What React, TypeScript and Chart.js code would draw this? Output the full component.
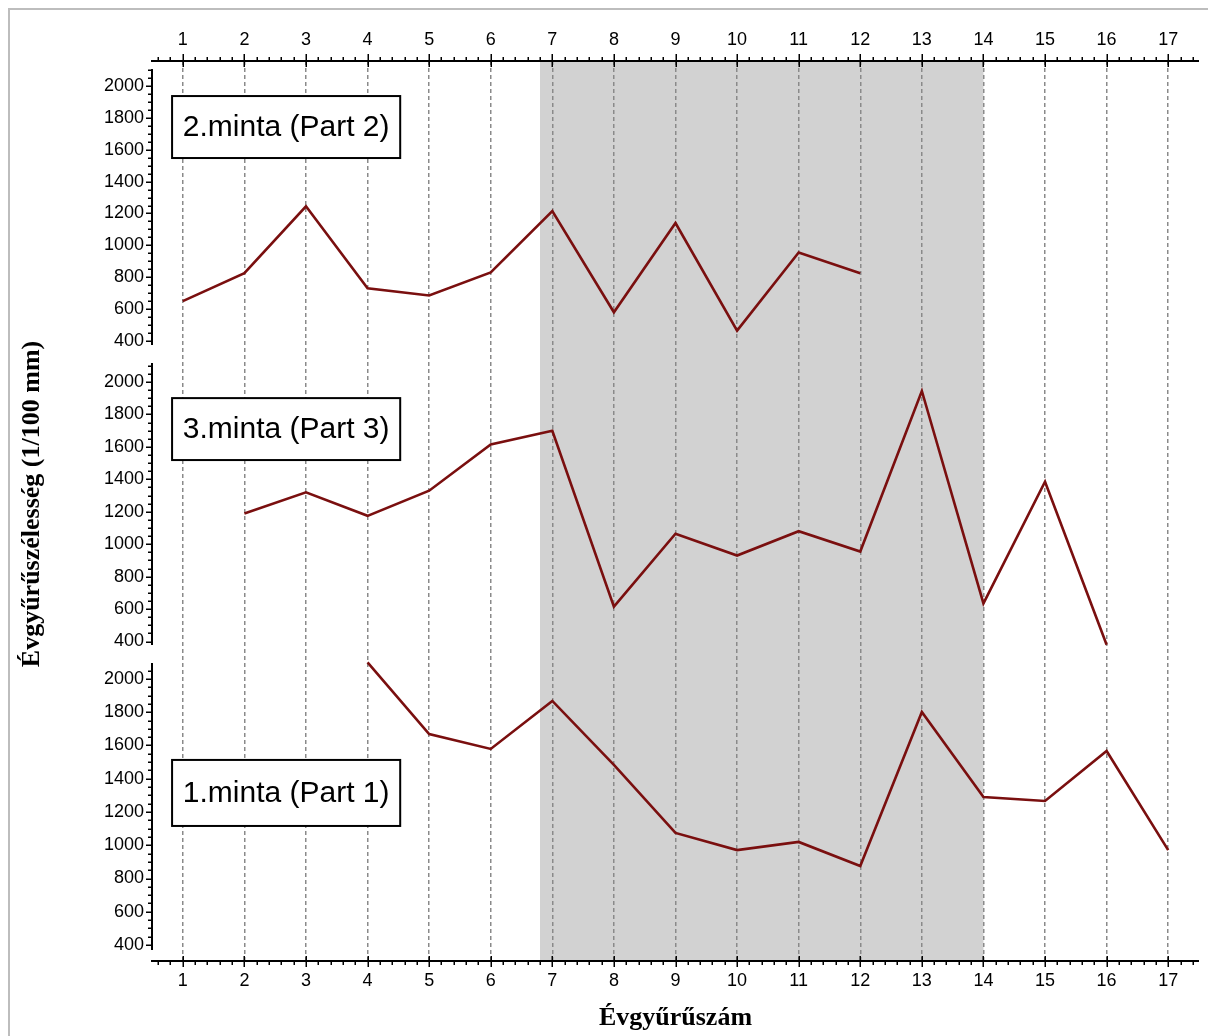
import React, { useEffect, useRef } from "react";
import { Chart, registerables } from "chart.js";

Chart.register(...registerables);

// ---- data ----
const RING_NUMBERS = [1, 2, 3, 4, 5, 6, 7, 8, 9, 10, 11, 12, 13, 14, 15, 16, 17];
const X_TICKS = [1, 2, 3, 4, 5, 6, 7, 8, 9, 10, 11, 12, 13, 14, 15, 16, 17];
const Y_TICKS = [400, 600, 800, 1000, 1200, 1400, 1600, 1800, 2000];

// 2.minta (Part 2) – top panel
const SAMPLE_2 = [650, 825, 1245, 730, 685, 830, 1215, 580, 1140, 465, 955, 825, null, null, null, null, null];
// 3.minta (Part 3) – middle panel
const SAMPLE_3 = [null, 1190, 1320, 1175, 1330, 1615, 1700, 615, 1065, 930, 1080, 955, 1945, 635, 1385, 380, null];
// 1.minta (Part 1) – bottom panel
const SAMPLE_1 = [null, null, null, 2100, 1669, 1579, 1868, 1483, 1074, 971, 1020, 875, 1801, 1290, 1266, 1567, 971];

const PANEL_LABELS = ["2.minta (Part 2)", "3.minta (Part 3)", "1.minta (Part 1)"];
const SHADE_RANGE = [6.8, 14];

const X_TITLE = "Évgyűrűszám";
const Y_TITLE = "Évgyűrűszélesség (1/100 mm)";

// ---- layout / style config ----
const SANS = '"Liberation Sans", Arial, sans-serif';
const SERIF = '"Liberation Serif", "Times New Roman", serif';
const LINE_COLOR = "#7a0f0f";

// listed top to bottom
const PANELS = [
  { id: "yTop", min: 318, max: 2157, weight: 293, axisLo: 375, axisHi: 2107, data: SAMPLE_2,
    box: { x0: 0.826, x1: 4.53, yTop: 1937, yBot: 1548 } },
  { id: "yMid", min: 323, max: 2173, weight: 300, axisLo: 378, axisHi: 2117, data: SAMPLE_3,
    box: { x0: 0.826, x1: 4.53, yTop: 1901, yBot: 1519 } },
  { id: "yBot", min: 304, max: 2150, weight: 307, axisLo: 370, axisHi: 2096, data: SAMPLE_1,
    box: { x0: 0.826, x1: 4.53, yTop: 1513, yBot: 1116 } },
];

const decorPlugin = {
  id: "decor",
  beforeDraw(chart: any) {
    const { ctx, chartArea: a, scales } = chart;
    const x = scales.x;
    const l = x.getPixelForValue(SHADE_RANGE[0]);
    const r = x.getPixelForValue(SHADE_RANGE[1]);
    ctx.save();
    ctx.fillStyle = "#d2d2d2";
    ctx.fillRect(l, a.top, r - l, a.bottom - a.top);
    ctx.restore();
  },
  afterDatasetsDraw(chart: any) {
    const { ctx, chartArea: a, scales } = chart;
    const x = scales.x;
    ctx.save();
    ctx.strokeStyle = "#000";
    ctx.lineWidth = 2;
    ctx.lineCap = "butt";
    // x axis lines (top and bottom)
    ctx.beginPath();
    ctx.moveTo(a.left - 1, a.top);
    ctx.lineTo(a.right, a.top);
    ctx.moveTo(a.left - 1, a.bottom);
    ctx.lineTo(a.right, a.bottom);
    ctx.stroke();
    // x ticks
    ctx.lineWidth = 1.5;
    ctx.beginPath();
    for (let i = 1; i <= 90; i++) {
      const v = i / 5;
      if (v <= x.min || v >= x.max) continue;
      const px = Math.round(x.getPixelForValue(v)) + 0.25;
      if (i % 5 === 0) {
        ctx.moveTo(px, a.top - 7);
        ctx.lineTo(px, a.top + 6);
        ctx.moveTo(px, a.bottom - 5);
        ctx.lineTo(px, a.bottom + 6);
      } else {
        ctx.moveTo(px, a.top - 4);
        ctx.lineTo(px, a.top);
        ctx.moveTo(px, a.bottom);
        ctx.lineTo(px, a.bottom + 4);
      }
    }
    ctx.stroke();
    // y axes
    for (const p of PANELS) {
      const y = scales[p.id];
      const t = y.getPixelForValue(p.axisHi);
      const b = y.getPixelForValue(p.axisLo);
      ctx.lineWidth = 2;
      ctx.beginPath();
      ctx.moveTo(a.left, t);
      ctx.lineTo(a.left, b);
      ctx.stroke();
      ctx.lineWidth = 1.5;
      ctx.beginPath();
      for (let v = 400; v <= p.axisHi; v += 50) {
        const py = Math.round(y.getPixelForValue(v)) + 0.25;
        const major = v % 200 === 0 && v <= 2000;
        ctx.moveTo(a.left - (major ? 6 : 4), py);
        ctx.lineTo(a.left, py);
      }
      ctx.stroke();
    }
    // panel label boxes
    PANELS.forEach((p, idx) => {
      const y = scales[p.id];
      const x0 = x.getPixelForValue(p.box.x0);
      const x1 = x.getPixelForValue(p.box.x1);
      const y0 = y.getPixelForValue(p.box.yTop);
      const y1 = y.getPixelForValue(p.box.yBot);
      ctx.fillStyle = "#fff";
      ctx.fillRect(x0, y0, x1 - x0, y1 - y0);
      ctx.lineWidth = 2;
      ctx.strokeStyle = "#000";
      ctx.strokeRect(x0, y0, x1 - x0, y1 - y0);
      ctx.fillStyle = "#000";
      ctx.font = `30px ${SANS}`;
      ctx.textAlign = "center";
      ctx.textBaseline = "middle";
      ctx.fillText(PANEL_LABELS[idx], (x0 + x1) / 2, (y0 + y1) / 2 + 1);
    });
    ctx.restore();
  },
};

function xAxis(position: "top" | "bottom") {
  const isBottom = position === "bottom";
  return {
    type: "linear",
    axis: "x",
    position,
    min: 0.5,
    max: 17.5,
    afterBuildTicks: (s: any) => {
      s.ticks = X_TICKS.map((v) => ({ value: v }));
    },
    afterFit: (s: any) => {
      s.height = isBottom ? 75 : 51;
    },
    ticks: {
      font: { family: SANS, size: 18 },
      color: "#000",
      padding: isBottom ? 9 : 10,
      maxRotation: 0,
      autoSkip: false,
      callback: (v: any) => String(v),
    },
    grid: {
      display: isBottom,
      drawOnChartArea: isBottom,
      drawTicks: false,
      color: "#8a8a8a",
      lineWidth: 1.5,
    },
    border: { display: false, dash: [4, 3] },
    title: isBottom
      ? {
          display: true,
          text: X_TITLE,
          color: "#000",
          font: { family: SERIF, size: 26, weight: "bold" },
          padding: { top: 0, bottom: 2 },
        }
      : { display: false },
  };
}

function yAxis(p: any, withTitle: boolean) {
  return {
    type: "linear",
    axis: "y",
    position: "left",
    stack: "panels",
    stackWeight: p.weight,
    min: p.min,
    max: p.max,
    afterBuildTicks: (s: any) => {
      s.ticks = Y_TICKS.map((v) => ({ value: v }));
    },
    afterFit: (s: any) => {
      s.width = 142;
    },
    ticks: {
      font: { family: SANS, size: 18 },
      color: "#000",
      padding: 8,
      autoSkip: false,
      callback: (v: any) => String(v),
    },
    grid: { display: false, drawTicks: false },
    border: { display: false },
    title: withTitle
      ? {
          display: true,
          text: Y_TITLE,
          color: "#000",
          font: { family: SERIF, size: 26, weight: "bold" },
          padding: { top: 7, bottom: 0 },
        }
      : { display: false },
  };
}

export default function App() {
  const ref = useRef<HTMLCanvasElement | null>(null);

  useEffect(() => {
    if (!ref.current) return;
    const scales: any = {
      x: xAxis("bottom"),
      x2: xAxis("top"),
    };
    // Chart.js places the last-defined stacked left axis at the top,
    // so define the panels bottom-to-top.
    for (let i = PANELS.length - 1; i >= 0; i--) {
      scales[PANELS[i].id] = yAxis(PANELS[i], i === 1);
    }
    const datasets = PANELS.map((p, i) => ({
      label: PANEL_LABELS[i],
      data: RING_NUMBERS.map((n, k) => ({ x: n, y: p.data[k] })),
      xAxisID: "x",
      yAxisID: p.id,
      borderColor: LINE_COLOR,
      backgroundColor: LINE_COLOR,
      borderWidth: 2.6,
      pointRadius: 0,
      tension: 0,
      spanGaps: false,
    }));
    const chart = new Chart(ref.current, {
      type: "line",
      data: { datasets } as any,
      options: {
        responsive: false,
        animation: false,
        devicePixelRatio: 1,
        layout: { padding: { left: 0, top: 0, right: 9, bottom: 0 } },
        plugins: { legend: { display: false }, tooltip: { enabled: false } },
        scales,
      } as any,
      plugins: [decorPlugin],
    });
    return () => chart.destroy();
  }, []);

  return (
    <div
      style={{
        position: "fixed",
        left: 8,
        top: 8,
        borderTop: "2px solid #bdbdbd",
        borderLeft: "2px solid #bdbdbd",
        background: "#fff",
      }}
    >
      <canvas ref={ref} width={1198} height={1026} style={{ display: "block" }} />
    </div>
  );
}
